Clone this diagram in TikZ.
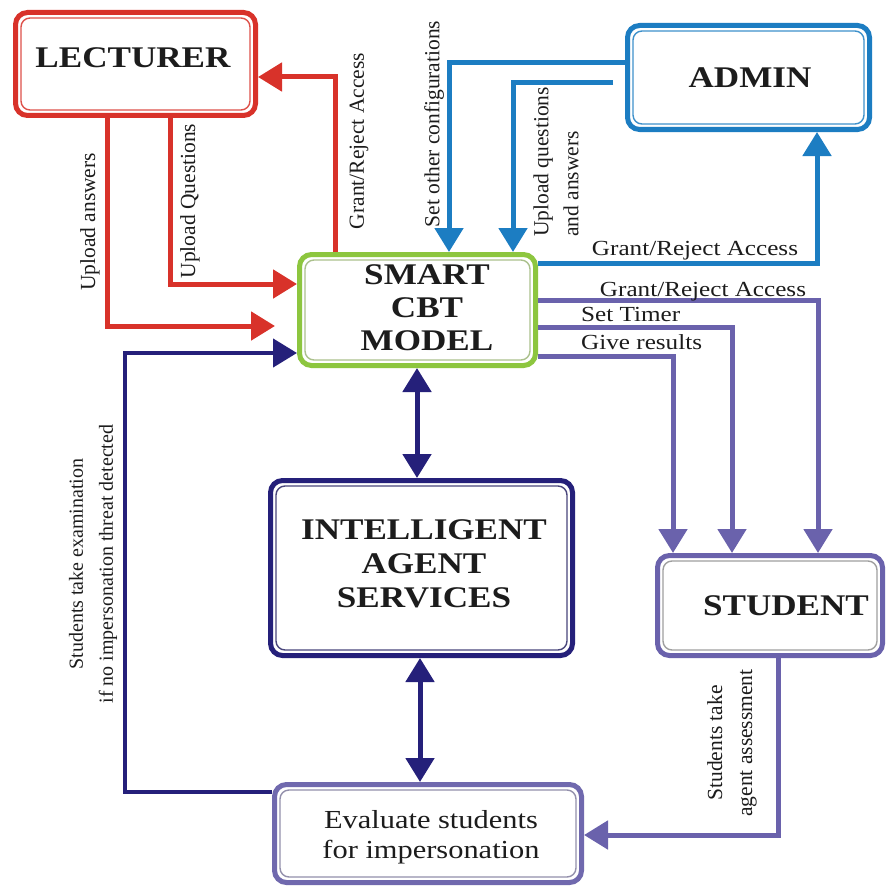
\documentclass[tikz,border=0pt]{standalone}
\usepackage{fontspec}
\setmainfont{Liberation Serif}
\usepackage{graphicx}
\usetikzlibrary{arrows.meta}
\definecolor{cred}{HTML}{D8322A}
\definecolor{cgreen}{HTML}{8DC63F}
\definecolor{cblue}{HTML}{1C7DC2}
\definecolor{cpurple}{HTML}{6A62AC}
\definecolor{cnavy}{HTML}{25207A}
\definecolor{ceval}{HTML}{7069AE}
\definecolor{ctext}{HTML}{1C1C1C}
\newcommand\sx[1]{\scalebox{1.17}[1]{#1}}
\newcommand\titlefont{\fontsize{30}{33}\selectfont\bfseries}
\newcommand\lblfont{\fontsize{21.5}{30}\selectfont}
\newcommand\innerfr[2]{\draw[#2, line width=1.4pt, rounded corners=9pt] ([shift={(8,8)}]#1.north west) rectangle ([shift={(-8,-8)}]#1.south east);}
\begin{document}
\begin{tikzpicture}[x=1pt,y=-1pt,
  boxnode/.style={draw=#1, line width=5pt, rounded corners=12pt, fill=white, inner sep=0pt},
  title/.style={font=\titlefont, text=ctext, inner sep=0pt},
  lbl/.style={font=\lblfont, text=ctext, inner sep=0pt},
  conn/.style={line width=5pt, -{Triangle[length=24pt,width=28pt]}},
  biconn/.style={line width=5pt, {Triangle[length=24pt,width=28pt]}-{Triangle[length=24pt,width=28pt]}},
]
\useasboundingbox[fill=white] (0,0) rectangle (887,888);

% boxes
\node[boxnode=cred, minimum width=240pt, minimum height=103pt] (lec) at (135.5,64) {};
\innerfr{lec}{cred!85}
\node[title] (lecT) at (133,57.5) {\sx{LECTURER}};

\node[boxnode=cblue, minimum width=242pt, minimum height=104pt] (admin) at (748.5,77.5) {};
\innerfr{admin}{cblue!85}
\node[title] (adminT) at (750,78) {\sx{ADMIN}};

\node[boxnode=cgreen, minimum width=236pt, minimum height=111pt] (smart) at (417.5,310) {};
\innerfr{smart}{cgreen!55!gray!70}
\node[title] (smartT) at (427,311) {\sx{\begin{tabular}{@{}c@{}}SMART\\CBT\\MODEL\end{tabular}}};

\node[boxnode=cnavy, minimum width=302pt, minimum height=175pt] (ias) at (421.5,568) {};
\innerfr{ias}{cnavy!60!gray}
\node[title, font=\fontsize{30}{34}\selectfont\bfseries] (iasT) at (424,567) {\sx{\begin{tabular}{@{}c@{}}INTELLIGENT\\AGENT\\SERVICES\end{tabular}}};

\node[boxnode=cpurple, minimum width=225pt, minimum height=100pt] (stud) at (770,605.5) {};
\innerfr{stud}{gray!75}
\node[title] (studT) at (786,605.5) {\sx{STUDENT}};

\node[boxnode=ceval, minimum width=307pt, minimum height=98pt] (eval) at (428,833.5) {};
\innerfr{eval}{ceval!50!gray!80}
\node[lbl, font=\fontsize{26}{30}\selectfont] (evalT) at (431,837) {\sx{\begin{tabular}{@{}c@{}}Evaluate students\\for impersonation\end{tabular}}};

% bend coordinates
\coordinate (r1) at (107,326);
\coordinate (r1e) at (275,326);
\coordinate (r2) at (170,284);
\coordinate (r3) at (335,77);
\coordinate (b1) at (449,63);
\coordinate (b2s) at (613,83);
\coordinate (b2) at (513,83);
\coordinate (b3) at (817,263);
\coordinate (p1) at (818,300);
\coordinate (p2) at (732,327);
\coordinate (p3) at (673,356);
\coordinate (s1) at (778,835);
\coordinate (n1) at (125,792);
\coordinate (n2) at (125,353);
\coordinate (d1) at (417,0);
\coordinate (d2) at (420,0);

% red connectors
\draw[conn, cred] (lec.south -| r1) |- (r1e);
\draw[conn, cred] (lec.south -| r2) |- (smart.west |- r2);
\draw[conn, cred] (smart.north -| r3) |- (lec.east |- r3);

% blue connectors
\draw[conn, cblue] (admin.west |- b1) -| (smart.north -| b1);
\draw[conn, cblue] (b2s) -| (smart.north -| b2);
\draw[conn, cblue] (smart.east |- b3) -| (admin.south -| b3);

% purple connectors
\draw[conn, cpurple] (smart.east |- p1) -| (stud.north -| p1);
\draw[conn, cpurple] (smart.east |- p2) -| (stud.north -| p2);
\draw[conn, cpurple] (smart.east |- p3) -| (stud.north -| p3);
\draw[conn, cpurple] (stud.south -| s1) |- (eval.east |- s1);

% navy connectors
\draw[conn, cnavy, line width=4.5pt] (eval.west |- n1) -| (n2) -- (smart.west |- n2);
\draw[biconn, cnavy] (smart.south -| d1) -- (ias.north -| d1);
\draw[biconn, cnavy] (ias.south -| d2) -- (eval.north -| d2);

% labels
\node[lbl, rotate=90] (lUA) at (90,222) {Upload answers};
\node[lbl, rotate=90] (lUQ) at (190,201) {Upload Questions};
\node[lbl, rotate=90] (lGR1) at (359,141) {Grant/Reject Access};
\node[lbl, rotate=90] (lSO) at (434,124) {Set other configurations};
\node[lbl, rotate=90, align=left] (lUQA) at (556,162) {Upload questions\\and answers};
\node[lbl, rotate=90, align=center] (lSTA) at (732,743) {Students take\\agent assessment};
\node[lbl, rotate=90, align=center, font=\fontsize{20}{30}\selectfont] (lSTE) at (93,564) {Students take examination\\if no impersonation threat detected};
\node[lbl, anchor=base] (lGR2) at (695,255) {\sx{Grant/Reject Access}};
\node[lbl, anchor=base] (lGR3) at (703,296) {\sx{Grant/Reject Access}};
\node[lbl, anchor=base west] (lST) at (581,321) {\sx{Set Timer}};
\node[lbl, anchor=base west] (lGV) at (581,349) {\sx{Give results}};
\end{tikzpicture}
\end{document}
